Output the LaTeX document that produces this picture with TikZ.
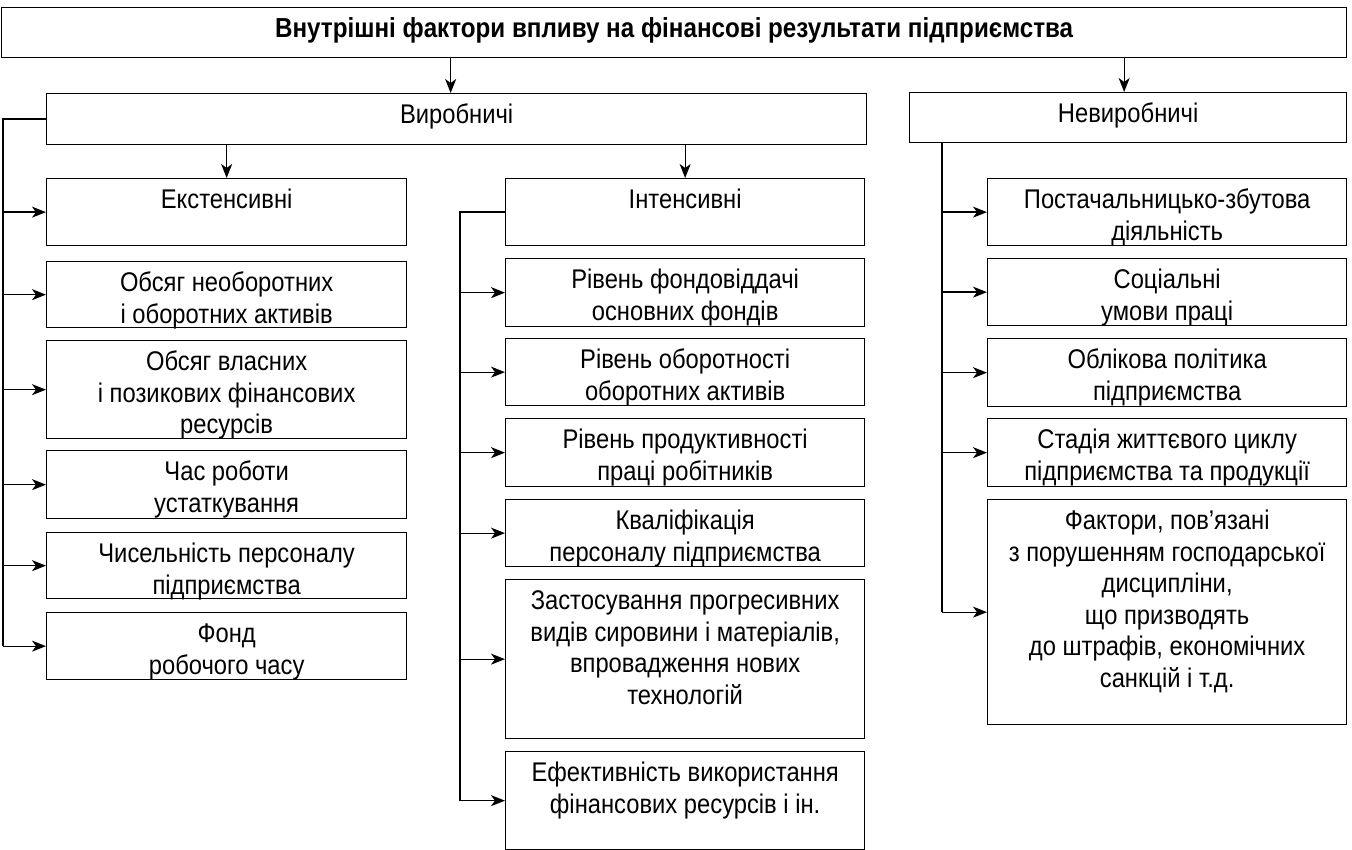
\documentclass[tikz,border=0pt]{standalone}
\usepackage{fontspec}
\setmainfont{Liberation Sans}[FakeStretch=0.88]
\usepackage{tikz}
\usetikzlibrary{arrows.meta, positioning}
\newcommand{\fbody}{\fontsize{27}{31.5}\selectfont}
\newcommand{\ftitle}{\fontsize{27.5}{31}\selectfont\bfseries}
% box text: width, height, lines (first baseline 30pt under the top)
\newcommand{\boxtext}[3]{\parbox[b][#2pt][t]{#1pt}{\centering\rule{0pt}{30pt}#3\par}}

\begin{document}
\begin{tikzpicture}[
    x=1pt, y=-1pt,
    factor/.style={
        draw,
        line width=1.3pt,
        inner sep=0pt,
        anchor=north west,
        font=\fbody
    },
    line/.style={line width=1.3pt},
    arrow/.style={line width=1.3pt, -{Stealth[length=14pt, width=11pt, inset=4pt]}}
]
\useasboundingbox (0,0) rectangle (1352,850);

\node[factor, font=\ftitle] (title) at (1,7) {\boxtext{1345}{50}{Внутрішні фактори впливу на фінансові результати підприємства}};

\node[factor] (vyr) at (46,93) {\boxtext{820}{51}{Виробничі}};
\node[factor] (nevyr) at (909,92) {\boxtext{437}{50}{Невиробничі}};

% extensive
\node[factor] (ext) at (46,178) {\boxtext{360}{67}{Екстенсивні}};
\node[factor] (obs1) at (46,261) {\boxtext{360}{66}{Обсяг необоротних\\і оборотних активів}};
\node[factor] (obs2) at (46,340) {\boxtext{360}{98}{Обсяг власних\\і позикових фінансових\\ресурсів}};
\node[factor] (chas) at (46,450) {\boxtext{360}{68}{Час роботи\\устаткування}};
\node[factor] (chys) at (46,532) {\boxtext{360}{66}{Чисельність персоналу\\підприємства}};
\node[factor] (fond) at (46,612) {\boxtext{360}{67}{Фонд\\робочого часу}};

% intensive
\node[factor] (int) at (505,178) {\boxtext{359}{67}{Інтенсивні}};
\node[factor] (fondv) at (505,258) {\boxtext{359}{68}{Рівень фондовіддачі\\основних фондів}};
\node[factor] (oborot) at (505,338) {\boxtext{359}{67}{Рівень оборотності\\оборотних активів}};
\node[factor] (prod) at (505,418) {\boxtext{359}{68}{Рівень продуктивності\\праці робітників}};
\node[factor] (kval) at (505,499) {\boxtext{359}{67}{Кваліфікація\\персоналу підприємства}};
\node[factor] (zast) at (505,579) {\boxtext{359}{159}{Застосування прогресивних\\видів сировини і матеріалів,\\впровадження нових\\технологій}};
\node[factor] (efekt) at (505,751) {\boxtext{359}{98}{Ефективність використання\\фінансових ресурсів і ін.}};

% non-production
\node[factor] (post) at (987,178) {\boxtext{359}{67}{Постачальницько-збутова\\діяльність}};
\node[factor] (soc) at (987,258) {\boxtext{359}{67}{Соціальні\\умови праці}};
\node[factor] (obl) at (987,338) {\boxtext{359}{68}{Облікова політика\\підприємства}};
\node[factor] (stad) at (987,418) {\boxtext{359}{68}{Стадія життєвого циклу\\підприємства та продукції}};
\node[factor] (fakt) at (987,499) {\boxtext{359}{225}{Фактори, пов’язані\\з порушенням господарської\\дисципліни,\\що призводять\\до штрафів, економічних\\санкцій і т.д.}};

\coordinate (lx) at (3,0);
\coordinate (mx) at (460,0);
\coordinate (rx) at (942,0);

\draw[arrow] ([xshift=-6pt]title.south -| vyr.north) -- ([xshift=-6pt]vyr.north);
\draw[arrow] ([xshift=-4pt]title.south -| nevyr.north) -- ([xshift=-4pt]nevyr.north);
\draw[arrow] (vyr.south -| ext.north) -- (ext.north);
\draw[arrow] (vyr.south -| int.north) -- (int.north);

\draw[line] (vyr.west) -| (lx |- fond.west);
\draw[arrow] (lx |- ext.west) -- (ext.west);
\draw[arrow] (lx |- obs1.west) -- (obs1.west);
\draw[arrow] (lx |- obs2.west) -- (obs2.west);
\draw[arrow] (lx |- chas.west) -- (chas.west);
\draw[arrow] (lx |- chys.west) -- (chys.west);
\draw[arrow] (lx |- fond.west) -- (fond.west);

\draw[line] (int.west) -| (mx |- efekt.west);
\draw[arrow] (mx |- fondv.west) -- (fondv.west);
\draw[arrow] (mx |- oborot.west) -- (oborot.west);
\draw[arrow] (mx |- prod.west) -- (prod.west);
\draw[arrow] (mx |- kval.west) -- (kval.west);
\draw[arrow] (mx |- zast.west) -- (zast.west);
\draw[arrow] (mx |- efekt.west) -- (efekt.west);

\draw[line] (rx |- nevyr.south) -- (rx |- fakt.west);
\draw[arrow] (rx |- post.west) -- (post.west);
\draw[arrow] (rx |- soc.west) -- (soc.west);
\draw[arrow] (rx |- obl.west) -- (obl.west);
\draw[arrow] (rx |- stad.west) -- (stad.west);
\draw[arrow] (rx |- fakt.west) -- (fakt.west);

\end{tikzpicture}
\end{document}
